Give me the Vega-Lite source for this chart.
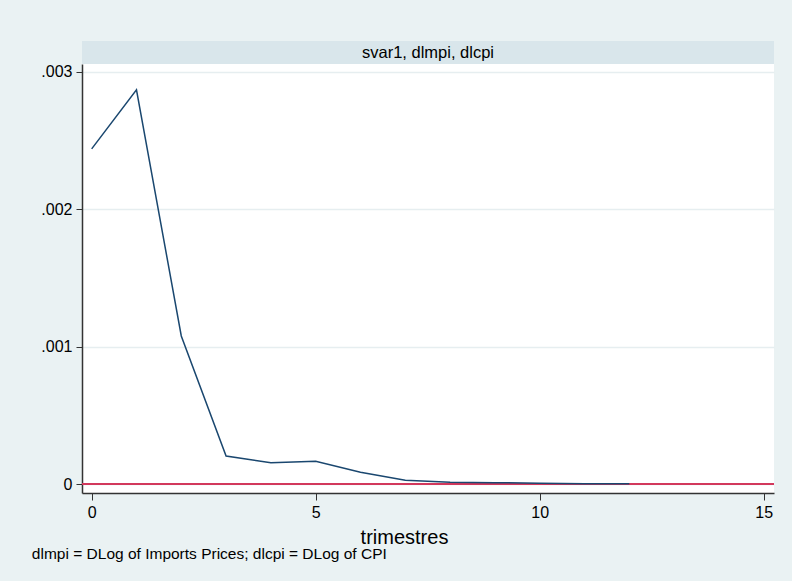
{
  "$schema": "https://vega.github.io/schema/vega-lite/v6.json",
  "background": "#eaf2f3",
  "padding": {"left": 31, "top": 41, "right": 18, "bottom": 23},
  "spacing": 0,
  "bounds": "flush",
  "title": {
    "text": "dlmpi = DLog of Imports Prices; dlcpi = DLog of CPI",
    "orient": "bottom",
    "anchor": "start",
    "frame": "bounds",
    "font": "Liberation Sans",
    "fontSize": 15.5,
    "fontWeight": "normal",
    "color": "#000000",
    "offset": 0,
    "dx": -9
  },
  "config": {
    "font": "Liberation Sans",
    "view": {"stroke": null}
  },
  "vconcat": [
    {
      "width": 692,
      "height": 23,
      "view": {"fill": "#d9e6eb", "stroke": null},
      "data": {"values": [{"label": "svar1, dlmpi, dlcpi"}]},
      "mark": {"type": "text", "fontSize": 16.5, "color": "#000000", "baseline": "middle", "align": "center"},
      "encoding": {"text": {"field": "label"}}
    },
    {
      "width": 692,
      "height": 429,
      "view": {"fill": "#ffffff", "stroke": null},
      "layer": [
        {
          "data": {"values": [{"zero": 0}]},
          "mark": {"type": "rule", "color": "#d2385c", "strokeWidth": 2},
          "encoding": {
            "y": {"field": "zero", "type": "quantitative", "scale": {"domain": [-0.0000655, 0.003058], "nice": false, "zero": false}}
          }
        },
        {
          "data": {"values": [
            {"step": 0, "irf": 0.00244},
            {"step": 1, "irf": 0.00287},
            {"step": 2, "irf": 0.001078},
            {"step": 3, "irf": 0.000204},
            {"step": 4, "irf": 0.000155},
            {"step": 5, "irf": 0.000165},
            {"step": 6, "irf": 0.000085},
            {"step": 7, "irf": 0.000028},
            {"step": 8, "irf": 0.000013},
            {"step": 9, "irf": 0.000010},
            {"step": 10, "irf": 0.000005},
            {"step": 11, "irf": 0.000002},
            {"step": 12, "irf": 0.000001}
          ]},
          "mark": {"type": "line", "color": "#1a476f", "strokeWidth": 1.5},
          "encoding": {
            "x": {
              "field": "step", "type": "quantitative",
              "scale": {"domain": [-0.216, 15.23], "nice": false, "zero": false},
              "axis": {
                "title": "trimestres",
                "titleFontSize": 20,
                "titleFontWeight": "normal",
                "titleColor": "#000000",
                "titlePadding": 7,
                "titleX": 322,
                "titleAlign": "center",
                "values": [0, 5, 10, 15],
                "format": "d",
                "grid": false,
                "domainColor": "#333333",
                "domainWidth": 1.5,
                "tickColor": "#333333",
                "tickSize": 7,
                "labelFontSize": 16,
                "labelColor": "#000000",
                "labelPadding": 4
              }
            },
            "y": {
              "field": "irf", "type": "quantitative",
              "scale": {"domain": [-0.0000655, 0.003058], "nice": false, "zero": false},
              "axis": {
                "title": null,
                "values": [0, 0.001, 0.002, 0.003],
                "labelExpr": "datum.value == 0 ? '0' : replace(format(datum.value, '.3f'), '0.', '.')",
                "grid": true,
                "gridColor": "#e6eef0",
                "gridWidth": 1.5,
                "domainColor": "#333333",
                "domainWidth": 1.5,
                "tickColor": "#333333",
                "tickSize": 6,
                "labelFontSize": 16,
                "labelColor": "#000000",
                "labelPadding": 4
              }
            }
          }
        }
      ]
    }
  ]
}
